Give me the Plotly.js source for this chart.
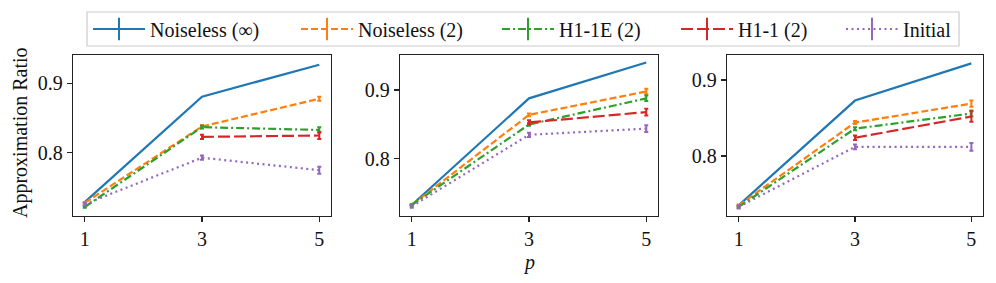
<!DOCTYPE html>
<html>
<head>
<meta charset="utf-8">
<script src="https://cdn.plot.ly/plotly-3.0.1.min.js"></script>
<style>html,body{margin:0;padding:0;background:#fff;}#chart{width:996px;height:283px;}</style>
</head>
<body>
<div id="chart"></div>
<script>
// ---- data ----
const pValues = [1, 3, 5];
const seriesNames = ["Noiseless (\u221e)", "Noiseless (2)", "H1-1E (2)", "H1-1 (2)", "Initial"];

// Panel 1
const p1Noiseless = [0.729, 0.881, 0.927];
const p1Noiseless2 = [0.728, 0.838, 0.878];
const p1H11E = [0.722, 0.837, 0.833];
const p1H11 = [null, 0.823, 0.825];
const p1Initial = [0.726, 0.793, 0.775];
const p1Noiseless2Err = [0.001, 0.002, 0.003];
const p1H11EErr = [0.001, 0.002, 0.004];
const p1H11Err = [null, 0.003, 0.005];
const p1InitialErr = [0.002, 0.003, 0.005];

// Panel 2
const p2Noiseless = [0.733, 0.888, 0.940];
const p2Noiseless2 = [0.733, 0.864, 0.898];
const p2H11E = [0.733, 0.850, 0.888];
const p2H11 = [null, 0.853, 0.868];
const p2Initial = [0.731, 0.835, 0.844];
const p2Noiseless2Err = [0.001, 0.002, 0.004];
const p2H11EErr = [0.001, 0.002, 0.004];
const p2H11Err = [null, 0.003, 0.005];
const p2InitialErr = [0.002, 0.003, 0.005];

// Panel 3
const p3Noiseless = [0.735, 0.873, 0.922];
const p3Noiseless2 = [0.735, 0.844, 0.869];
const p3H11E = [0.733, 0.836, 0.856];
const p3H11 = [null, 0.824, 0.852];
const p3Initial = [0.733, 0.812, 0.812];
const p3Noiseless2Err = [0.001, 0.002, 0.004];
const p3H11EErr = [0.001, 0.002, 0.004];
const p3H11Err = [null, 0.003, 0.007];
const p3InitialErr = [0.002, 0.003, 0.005];

const xTickVals = [1, 3, 5];
const yTickVals = [0.8, 0.9];
const yTickText = ["0.8", "0.9"];

// ---- styles ----
const colors = ["#1f77b4", "#ff7f0e", "#2ca02c", "#d62728", "#9467bd"];
const dashes = ["solid", "7px,3px", "8px,3px,2px,3px", "12px,4px", "2px,3.5px"];
const LW = 2.2;
const FONT = "Liberation Serif";

const panels = [
  {vals: [p1Noiseless, p1Noiseless2, p1H11E, p1H11, p1Initial],
   errs: [null, p1Noiseless2Err, p1H11EErr, p1H11Err, p1InitialErr]},
  {vals: [p2Noiseless, p2Noiseless2, p2H11E, p2H11, p2Initial],
   errs: [null, p2Noiseless2Err, p2H11EErr, p2H11Err, p2InitialErr]},
  {vals: [p3Noiseless, p3Noiseless2, p3H11E, p3H11, p3Initial],
   errs: [null, p3Noiseless2Err, p3H11EErr, p3H11Err, p3InitialErr]}
];

const traces = [];
panels.forEach((pan, pi) => {
  const xa = pi === 0 ? "x" : "x" + (pi + 1);
  const ya = pi === 0 ? "y" : "y" + (pi + 1);
  pan.vals.forEach((v, si) => {
    const t = {
      x: pValues, y: v, xaxis: xa, yaxis: ya, mode: "lines", showlegend: false,
      line: {color: colors[si], width: LW, dash: dashes[si]},
      hoverinfo: "skip"
    };
    if (pan.errs[si]) {
      t.error_y = {type: "data", array: pan.errs[si], visible: true, color: colors[si], thickness: 2, width: 2};
    }
    traces.push(t);
  });
});
// legend entries, one small legend per entry so spacing matches the reference
seriesNames.forEach((n, si) => {
  traces.push({
    x: [null], y: [null], xaxis: "x", yaxis: "y", name: n, mode: "lines+markers",
    legend: si === 0 ? "legend" : "legend" + (si + 1),
    line: {color: colors[si], width: LW, dash: dashes[si]},
    marker: {symbol: "line-ns", size: 17, color: colors[si], line: {color: colors[si], width: 2}}
  });
});

const axisCommon = {
  showgrid: false, zeroline: false, showline: true, mirror: true,
  linecolor: "#222", linewidth: 1.2, ticks: "outside", ticklen: 5, tickwidth: 1.2,
  tickcolor: "#222", tickfont: {family: FONT, size: 20, color: "#111"}
};
const xDomains = [[73/996, 331/996], [400/996, 658/996], [727/996, 983/996]];
const yDomain = [1 - 216/283, 1 - 55/283];
const yRanges = [[0.709, 0.941], [0.717, 0.951], [0.721, 0.933]];
const legendStarts = [94, 302, 503, 682, 847];

const layout = {
  width: 996, height: 283,
  margin: {l: 0, r: 0, t: 0, b: 0},
  paper_bgcolor: "#fff", plot_bgcolor: "#fff",
  font: {family: FONT, size: 20, color: "#111"},
  showlegend: true,
  shapes: [
    {type: "rect", xref: "paper", yref: "paper", x0: 87/996, x1: 959/996, y0: 1 - 46/283, y1: 1 - 12/283,
     line: {color: "#cccccc", width: 1.2}, fillcolor: "#fff", layer: "below"}
  ],
  annotations: [
    {text: "Approximation Ratio", xref: "paper", yref: "paper", x: 20/996, y: 1 - 133/283,
     textangle: -90, showarrow: false, font: {family: FONT, size: 20, color: "#111"}, xanchor: "center", yanchor: "middle"},
    {text: "<i>p</i>", xref: "paper", yref: "paper", x: 529/996, y: 1 - 262/283,
     showarrow: false, font: {family: FONT, size: 20, color: "#111"}, xanchor: "center", yanchor: "middle"}
  ]
};
legendStarts.forEach((sx, i) => {
  const key = i === 0 ? "legend" : "legend" + (i + 1);
  layout[key] = {
    orientation: "h", x: (sx - 6)/996, xanchor: "left", y: 1 - 29/283, yanchor: "middle",
    bgcolor: "rgba(0,0,0,0)", borderwidth: 0,
    font: {family: FONT, size: 20, color: "#111"},
    itemwidth: 52
  };
});
for (let i = 0; i < 3; i++) {
  const s = i === 0 ? "" : String(i + 1);
  layout["xaxis" + s] = Object.assign({}, axisCommon, {
    domain: xDomains[i], range: [0.8, 5.2], tickvals: xTickVals, anchor: "y" + s
  });
  layout["yaxis" + s] = Object.assign({}, axisCommon, {
    domain: yDomain, range: yRanges[i], tickvals: yTickVals, ticktext: yTickText, anchor: "x" + s
  });
}

Plotly.newPlot("chart", traces, layout, {displayModeBar: false, staticPlot: true});
</script>
</body>
</html>
